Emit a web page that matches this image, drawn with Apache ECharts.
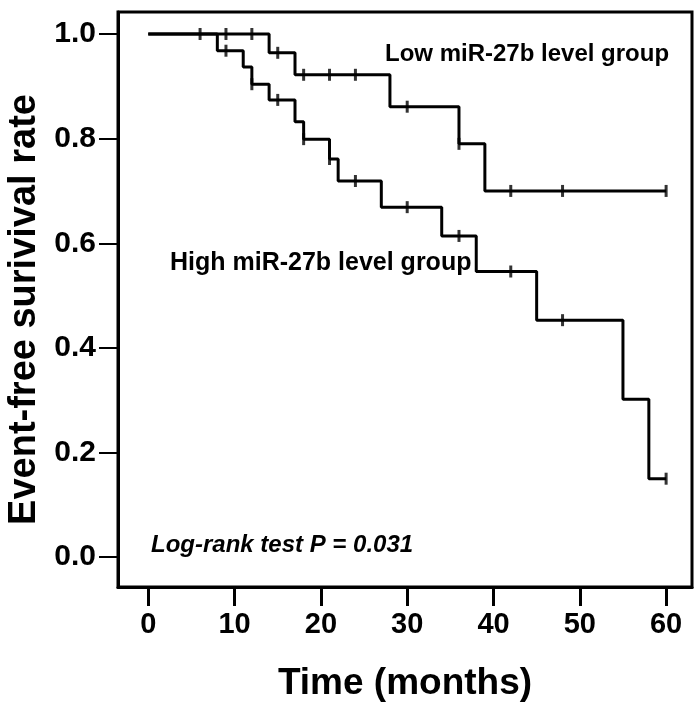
<!DOCTYPE html>
<html>
<head>
<meta charset="utf-8">
<script src="https://cdn.jsdelivr.net/npm/echarts@6/dist/echarts.min.js"></script>
<style>html,body{margin:0;padding:0;background:#fff}#c{width:700px;height:702px}</style>
</head>
<body>
<div id="c"></div>
<script>
// Kaplan-Meier step data (time in months, survival after the event)
const lowTimes = [0, 14, 17, 28, 36, 39, 60];
const lowSurv  = [1.0, 0.964, 0.922, 0.861, 0.790, 0.700, 0.700];
const lowCensor = [6, 9, 12, 15, 18, 21, 24, 30, 36, 42, 48, 60];

const highTimes = [0, 8, 11, 12, 14, 17, 18, 21, 22, 27, 34, 38, 45, 55, 58, 60];
const highSurv  = [1.0, 0.968, 0.937, 0.904, 0.874, 0.832, 0.799, 0.761, 0.719, 0.669, 0.614, 0.546, 0.453, 0.302, 0.150, 0.150];
const highCensor = [9, 12, 15, 18, 21, 24, 30, 36, 42, 48, 60];

const xTicks = [0, 10, 20, 30, 40, 50, 60];
const yTicks = [0, 0.2, 0.4, 0.6, 0.8, 1.0];

function survAt(times, surv, t) {
  let v = surv[0];
  for (let i = 0; i < times.length; i++) if (times[i] <= t) v = surv[i];
  return v;
}
const stepData = (ts, ss) => ts.map((t, i) => [t, ss[i]]);
const censorData = (cs, ts, ss) => cs.map(t => [t, survAt(ts, ss, t)]);

const FONT = '"Liberation Sans", Arial, sans-serif';
const chart = echarts.init(document.getElementById('c'), null, {renderer: 'canvas'});
const lineStyle = {color: '#000', width: 3};
chart.setOption({
  animation: false,
  backgroundColor: '#fff',
  grid: {left: 118, right: 8, top: 12, bottom: 115, containLabel: false, outerBoundsMode: 'none',
    show: true, borderColor: '#000', borderWidth: 3, backgroundColor: 'transparent'},
  xAxis: {
    type: 'value', min: -3.51, max: 63.0,
    name: 'Time (months)', nameLocation: 'middle', nameGap: 78,
    nameTextStyle: {fontFamily: FONT, fontWeight: 'bold', fontSize: 37, color: '#000'},
    axisLine: {show: true, onZero: false, lineStyle: {color: '#000', width: 3}},
    axisTick: {show: true, length: 19, lineStyle: {color: '#000', width: 3}, customValues: xTicks},
    axisLabel: {customValues: xTicks, margin: 23, fontFamily: FONT, fontWeight: 'bold', fontSize: 29, color: '#000'},
    splitLine: {show: false}
  },
  yAxis: {
    type: 'value', min: -0.057, max: 1.042,
    name: 'Event-free surivival rate', nameLocation: 'middle', nameGap: 70, nameRotate: 90,
    nameTextStyle: {fontFamily: FONT, fontWeight: 'bold', fontSize: 38, color: '#000', padding: [0, 20, 0, 0]},
    axisLine: {show: true, onZero: false, lineStyle: {color: '#000', width: 3}},
    axisTick: {show: true, length: 19, lineStyle: {color: '#000', width: 2}, customValues: yTicks},
    axisLabel: {customValues: yTicks, margin: 22, fontFamily: FONT, fontWeight: 'bold', fontSize: 30, color: '#000',
      formatter: v => v.toFixed(1)},
    splitLine: {show: false}
  },
  series: [
    {type: 'line', name: 'Low', step: 'end', data: stepData(lowTimes, lowSurv), showSymbol: false, lineStyle, z: 3},
    {type: 'line', name: 'High', step: 'end', data: stepData(highTimes, highSurv), showSymbol: false, lineStyle, z: 3},
    {type: 'scatter', data: censorData(lowCensor, lowTimes, lowSurv), symbol: 'rect', symbolSize: [3, 12], itemStyle: {color: '#000'}, z: 4},
    {type: 'scatter', data: censorData(highCensor, highTimes, highSurv), symbol: 'rect', symbolSize: [3, 12], itemStyle: {color: '#000'}, z: 4}
  ],
  graphic: [
    {type: 'text', left: 385, top: 42, style: {text: 'Low miR-27b level group', font: 'bold 24px ' + FONT, fill: '#000'}},
    {type: 'text', left: 170, top: 251, style: {text: 'High miR-27b level group', font: 'bold 25px ' + FONT, fill: '#000'}},
    {type: 'text', left: 151, top: 533, style: {text: 'Log-rank test P = 0.031', font: 'italic bold 24px ' + FONT, fill: '#000'}}
  ]
});
</script>
</body>
</html>
